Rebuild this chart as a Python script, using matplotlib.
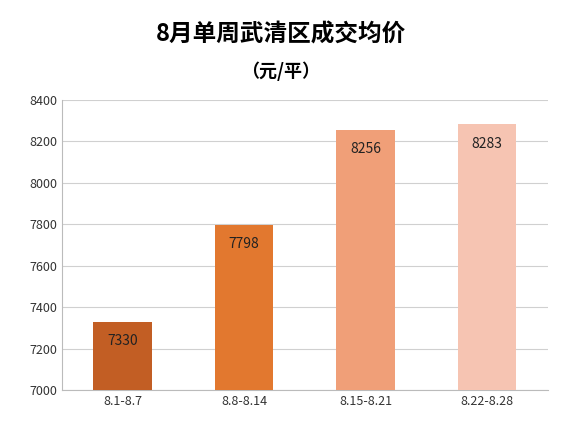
import matplotlib.pyplot as plt

plt.rcParams['font.family'] = ['Noto Sans CJK SC', 'DejaVu Sans']

periods = ['8.1-8.7', '8.8-8.14', '8.15-8.21', '8.22-8.28']
prices = [7330, 7798, 8256, 8283]
colors = ['#C25E24', '#E2782F', '#F09F78', '#F6C4B2']

fig = plt.figure(figsize=(5.62, 4.33), dpi=100)
ax = fig.add_axes([0.110, 0.099, 0.865, 0.670])

bars = ax.bar(range(len(prices)), prices, width=0.48, color=colors, zorder=3)
for i, v in enumerate(prices):
    ax.text(i, v - 60, str(v), ha='center', va='top', fontsize=10, color='#222222', zorder=4)

ax.set_ylim(7000, 8400)
ax.set_yticks(range(7000, 8401, 200))
ax.set_xlim(-0.5, 3.5)
ax.set_xticks(range(len(periods)))
ax.set_xticklabels(periods)
ax.tick_params(axis='both', length=0, labelsize=9, colors='#333333')
ax.grid(axis='y', color='#D0D0D0', linewidth=0.8, zorder=0)
for s in ['top', 'right']:
    ax.spines[s].set_visible(False)
ax.spines['bottom'].set_color('#BBBBBB')
ax.spines['left'].set_color('#BBBBBB')

fig.text(0.5, 0.92, '8月单周武清区成交均价', ha='center', va='center', fontsize=17, fontweight='bold')
fig.text(0.5, 0.835, '（元/平）', ha='center', va='center', fontsize=13, fontweight='bold')

fig.savefig('out.png', dpi=100)
